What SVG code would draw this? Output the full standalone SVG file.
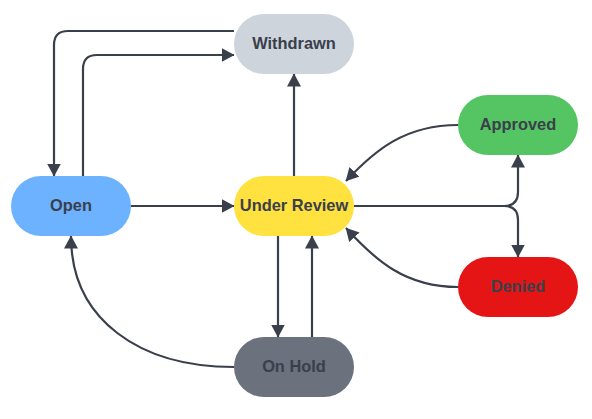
<svg xmlns="http://www.w3.org/2000/svg" width="592" height="419" viewBox="0 0 592 419">
<defs>
<style>
.node rect{stroke:none}
.node text{font-family:"Liberation Sans",Arial,sans-serif;font-weight:bold;font-size:16.4px;fill:#3a404b;text-anchor:middle;dominant-baseline:central}
.edge{fill:none;stroke:#3a404b;stroke-width:2.2;marker-end:url(#arrow)}
</style>
<marker id="arrow" markerUnits="userSpaceOnUse" markerWidth="13" markerHeight="14" viewBox="0 0 13 14" refX="12.5" refY="7" orient="auto">
<path d="M0,0 L13,7 L0,14 z" fill="#3a404b"/>
</marker>
</defs>
<rect width="592" height="419" fill="#ffffff"/>
<g id="connectors">
<path class="edge" d="M234,31 H68 Q54,31 54,45 V176"/>
<path class="edge" d="M83,176 V69 Q83,55 97,55 H234"/>
<path class="edge" d="M131,206 H234"/>
<path class="edge" d="M294,176 V74"/>
<path class="edge" d="M458,125 C405,125 375,150 346,181"/>
<path class="edge" d="M354,206 H504 Q518,206 518,192 V155"/>
<path class="edge" d="M354,206 H504 Q518,206 518,220 V257"/>
<path class="edge" d="M458,287 C405,287 375,260 346,228"/>
<path class="edge" d="M278,236 V337"/>
<path class="edge" d="M312,337 V236"/>
<path class="edge" d="M234,367 C140,367 71,320 71,236"/>
</g>
<g id="withdrawn" class="node"><rect x="234" y="14" width="120" height="60" rx="30" fill="#ced4dc"/><text x="294" y="42.5">Withdrawn</text></g>
<g id="open" class="node"><rect x="11" y="176" width="120" height="60" rx="30" fill="#6db2ff"/><text x="71" y="204.5">Open</text></g>
<g id="under-review" class="node"><rect x="234" y="176" width="120" height="60" rx="30" fill="#ffe13f"/><text x="294" y="204.5">Under Review</text></g>
<g id="approved" class="node"><rect x="458" y="95" width="120" height="60" rx="30" fill="#55c462"/><text x="518" y="123.5">Approved</text></g>
<g id="denied" class="node"><rect x="458" y="257" width="120" height="60" rx="30" fill="#e51515"/><text x="518" y="285.5">Denied</text></g>
<g id="on-hold" class="node"><rect x="234" y="337" width="120" height="60" rx="30" fill="#6c717e"/><text x="294" y="365.5">On Hold</text></g>
</svg>
